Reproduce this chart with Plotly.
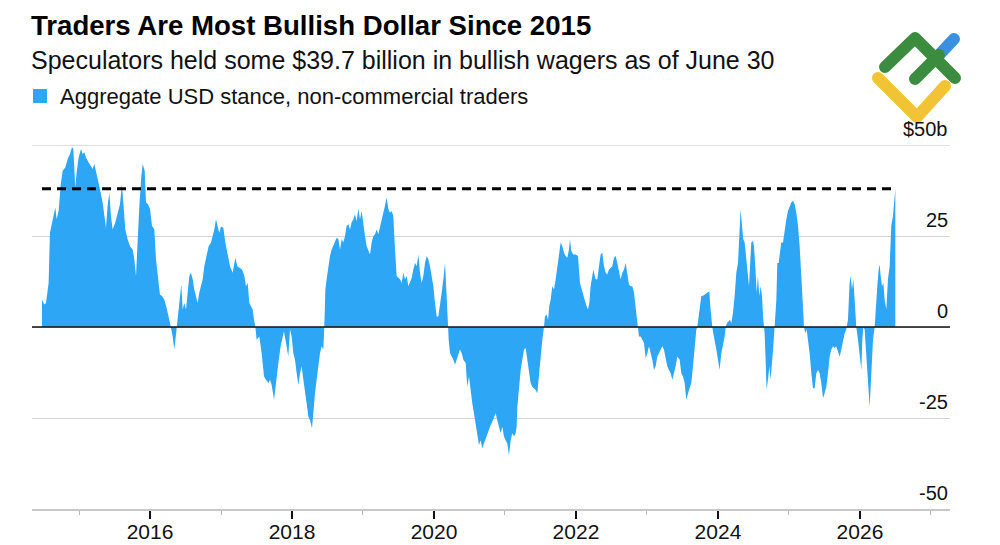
import base64
import plotly.graph_objects as go

# ---------------- data (decimal year, $bn) ----------------
seg_2014_2017 = [
    (2014.479, 7.5), (2014.511, 6.2), (2014.535, 6.6), (2014.572, 12.1), (2014.591, 25.9),
    (2014.629, 29.6), (2014.666, 32.8), (2014.685, 29.6), (2014.713, 31.9), (2014.746, 39.7),
    (2014.770, 42.9), (2014.807, 43.8), (2014.840, 46.1), (2014.873, 47.5), (2014.901, 49.4),
    (2014.920, 48.9), (2014.948, 38.3), (2014.967, 42.5), (2014.995, 46.6), (2015.028, 48.9),
    (2015.051, 47.5), (2015.075, 48.0), (2015.098, 46.6), (2015.136, 45.2), (2015.169, 44.3),
    (2015.192, 43.4), (2015.216, 44.8), (2015.239, 42.5), (2015.263, 40.6), (2015.295, 37.9),
    (2015.333, 34.2), (2015.356, 30.5), (2015.380, 27.3), (2015.403, 33.3), (2015.427, 36.9),
    (2015.450, 30.5), (2015.474, 26.8), (2015.511, 28.7), (2015.544, 31.4), (2015.577, 33.7),
    (2015.605, 39.2), (2015.624, 33.3), (2015.652, 26.8), (2015.685, 24.1), (2015.718, 22.2),
    (2015.756, 21.3), (2015.779, 18.6), (2015.803, 14.0), (2015.826, 25.9), (2015.850, 33.3),
    (2015.878, 41.5), (2015.897, 44.8), (2015.925, 42.9), (2015.944, 34.2), (2015.972, 33.7),
    (2016.000, 32.4), (2016.028, 27.8), (2016.061, 26.8), (2016.084, 18.6), (2016.112, 13.1),
    (2016.140, 8.9), (2016.169, 8.5), (2016.202, 7.5), (2016.234, 5.2), (2016.263, 2.9),
    (2016.291, 0.2), (2016.319, -2.6), (2016.342, -6.2), (2016.366, -2.1), (2016.389, 2.0),
    (2016.413, 5.2), (2016.441, 11.7), (2016.460, 4.8), (2016.483, 6.6), (2016.507, 4.8),
    (2016.530, 9.4), (2016.554, 14.0), (2016.577, 14.9), (2016.601, 13.1), (2016.624, 10.3),
    (2016.648, 8.5), (2016.671, 6.6), (2016.694, 9.4), (2016.718, 11.2), (2016.742, 13.1),
    (2016.765, 16.7), (2016.789, 18.6), (2016.826, 22.2), (2016.859, 23.2), (2016.882, 25.0),
    (2016.906, 26.8), (2016.929, 29.6), (2016.953, 27.8), (2016.976, 25.9), (2017.000, 27.6),
    (2017.033, 27.3), (2017.061, 23.2), (2017.094, 19.5), (2017.127, 16.7), (2017.164, 14.9),
    (2017.202, 19.0), (2017.230, 16.7), (2017.258, 16.3), (2017.296, 15.8), (2017.329, 14.0),
    (2017.352, 11.2), (2017.376, 12.1), (2017.399, 6.6), (2017.422, 5.7),
]

seg_2017_2020 = [
    (2017.446, 4.8), (2017.465, 2.0), (2017.484, 0.0), (2017.502, -3.5), (2017.540, -2.6),
    (2017.573, -7.2), (2017.606, -13.6), (2017.634, -14.5), (2017.667, -15.4), (2017.690, -14.5),
    (2017.714, -15.9), (2017.747, -20.0), (2017.775, -14.5), (2017.808, -9.9), (2017.840, -5.3),
    (2017.869, -2.6), (2017.887, -1.2), (2017.916, -4.4), (2017.948, -8.1), (2017.972, -0.7),
    (2017.995, -2.6), (2018.019, -7.2), (2018.042, -9.0), (2018.066, -12.7), (2018.089, -15.9),
    (2018.113, -12.7), (2018.136, -10.8), (2018.160, -14.5), (2018.183, -17.3), (2018.207, -21.0),
    (2018.230, -24.6), (2018.254, -25.6), (2018.282, -27.8), (2018.301, -22.8), (2018.324, -18.2),
    (2018.347, -14.5), (2018.371, -10.8), (2018.394, -7.2), (2018.418, -5.3), (2018.441, -6.2),
    (2018.455, 0.0), (2018.470, 10.3), (2018.488, 13.1), (2018.512, 16.7), (2018.535, 19.5),
    (2018.559, 21.3), (2018.582, 22.2), (2018.606, 23.2), (2018.629, 24.5), (2018.653, 24.1),
    (2018.676, 21.3), (2018.700, 24.1), (2018.723, 23.2), (2018.747, 25.0), (2018.770, 27.8),
    (2018.794, 28.2), (2018.817, 26.8), (2018.840, 28.7), (2018.864, 29.6), (2018.887, 31.0),
    (2018.911, 29.1), (2018.934, 32.4), (2018.958, 29.6), (2018.981, 31.9), (2019.005, 27.8),
    (2019.028, 25.0), (2019.052, 22.2), (2019.075, 20.9), (2019.099, 19.9), (2019.122, 23.2),
    (2019.146, 25.0), (2019.169, 25.5), (2019.193, 26.8), (2019.216, 25.5), (2019.240, 27.8),
    (2019.263, 29.6), (2019.286, 31.4), (2019.310, 33.3), (2019.333, 35.6), (2019.357, 32.4),
    (2019.380, 31.4), (2019.404, 31.9), (2019.427, 30.5), (2019.451, 21.3), (2019.474, 14.0),
    (2019.498, 13.5), (2019.521, 13.1), (2019.545, 12.1), (2019.568, 14.9), (2019.592, 13.1),
    (2019.615, 14.0), (2019.639, 11.2), (2019.662, 12.1), (2019.686, 13.5), (2019.709, 15.8),
    (2019.733, 17.6), (2019.756, 16.7), (2019.780, 19.9), (2019.803, 14.9), (2019.826, 12.1),
    (2019.850, 14.0), (2019.873, 17.6), (2019.897, 19.5), (2019.920, 18.6), (2019.944, 16.7),
    (2019.967, 14.0), (2019.991, 11.2), (2020.014, 6.6), (2020.038, 2.9), (2020.061, 2.9),
    (2020.085, 5.7), (2020.108, 9.4), (2020.132, 13.1), (2020.155, 17.6), (2020.178, 8.5),
    (2020.193, 0.0), (2020.207, -3.5), (2020.226, -7.2), (2020.249, -8.1), (2020.273, -9.0),
    (2020.296, -10.4), (2020.320, -9.0), (2020.343, -7.2), (2020.366, -6.2), (2020.390, -7.2),
    (2020.413, -9.0),
]

seg_2020_2023 = [
    (2020.446, -9.9), (2020.469, -16.4), (2020.493, -13.6), (2020.516, -18.2), (2020.540, -21.0),
    (2020.563, -23.7), (2020.587, -26.5), (2020.610, -30.1), (2020.634, -32.4), (2020.657, -31.1),
    (2020.681, -33.4), (2020.704, -32.0), (2020.728, -30.6), (2020.751, -29.2), (2020.775, -28.3),
    (2020.798, -26.9), (2020.822, -26.0), (2020.845, -24.6), (2020.868, -23.7), (2020.892, -25.6),
    (2020.915, -27.4), (2020.939, -29.2), (2020.962, -27.4), (2020.986, -30.1), (2021.009, -31.1),
    (2021.033, -32.0), (2021.056, -35.2), (2021.080, -31.1), (2021.103, -29.2), (2021.127, -30.1),
    (2021.150, -29.2), (2021.164, -27.4), (2021.174, -21.9), (2021.197, -16.4), (2021.221, -11.8),
    (2021.244, -9.0), (2021.268, -6.2), (2021.291, -5.8), (2021.315, -9.0), (2021.338, -12.7),
    (2021.361, -15.4), (2021.385, -16.4), (2021.408, -16.8), (2021.432, -17.3), (2021.455, -18.2),
    (2021.479, -12.7), (2021.502, -7.2), (2021.526, -3.5), (2021.549, 0.0), (2021.563, 2.9),
    (2021.587, 3.4), (2021.606, 2.0), (2021.624, 5.7), (2021.643, 7.5), (2021.667, 11.2),
    (2021.690, 10.3), (2021.714, 13.1), (2021.737, 16.7), (2021.761, 20.4), (2021.784, 23.2),
    (2021.808, 22.2), (2021.831, 20.4), (2021.854, 19.5), (2021.878, 19.0), (2021.901, 21.3),
    (2021.915, 24.1), (2021.934, 20.9), (2021.962, 19.9), (2021.995, 19.9), (2022.028, 19.5),
    (2022.056, 12.1), (2022.089, 9.4), (2022.122, 7.5), (2022.150, 5.7), (2022.169, 4.8),
    (2022.188, 6.6), (2022.206, 11.2), (2022.230, 14.0), (2022.244, 15.8), (2022.277, 13.1),
    (2022.300, 13.1), (2022.324, 16.7), (2022.347, 19.9), (2022.371, 20.4), (2022.394, 16.7),
    (2022.418, 14.9), (2022.441, 14.4), (2022.465, 15.8), (2022.488, 16.3), (2022.512, 16.7),
    (2022.535, 19.0), (2022.559, 19.5), (2022.582, 17.6), (2022.606, 14.9), (2022.629, 13.1),
    (2022.653, 14.9), (2022.676, 15.8), (2022.700, 17.6), (2022.723, 14.9), (2022.746, 11.7),
    (2022.770, 11.2), (2022.793, 11.2), (2022.817, 9.4), (2022.840, 4.8), (2022.864, 0.0),
    (2022.887, -2.6), (2022.911, -2.6), (2022.934, -3.5), (2022.958, -4.4), (2022.981, -8.5),
    (2023.005, -7.2), (2023.028, -5.3), (2023.052, -7.2), (2023.075, -9.0), (2023.099, -11.8),
    (2023.122, -10.8), (2023.146, -8.1), (2023.169, -7.2), (2023.192, -6.2), (2023.216, -5.3),
    (2023.239, -6.2), (2023.263, -9.0), (2023.286, -10.8), (2023.310, -11.8), (2023.333, -12.7),
    (2023.357, -14.5), (2023.380, -12.7), (2023.404, -10.8), (2023.427, -8.1),
]

seg_2023_2026 = [
    (2023.460, -9.0), (2023.484, -12.7), (2023.507, -13.6), (2023.531, -15.4), (2023.554, -20.0),
    (2023.578, -18.2), (2023.601, -16.4), (2023.624, -15.4), (2023.648, -10.8), (2023.671, -5.3),
    (2023.695, -0.7), (2023.709, 0.0), (2023.728, 2.9), (2023.746, 4.8), (2023.765, 8.5),
    (2023.789, 8.6), (2023.812, 8.9), (2023.836, 9.2), (2023.859, 9.6), (2023.878, 9.8),
    (2023.892, 5.7), (2023.906, 2.0), (2023.920, 0.0), (2023.934, -1.7), (2023.953, -3.5),
    (2023.977, -6.2), (2024.000, -9.0), (2024.023, -11.8), (2024.047, -7.2), (2024.070, -5.3),
    (2024.094, -2.6), (2024.108, 0.0), (2024.127, 1.1), (2024.150, 1.6), (2024.169, 2.0),
    (2024.188, 1.1), (2024.211, 3.9), (2024.235, 8.5), (2024.258, 14.9), (2024.282, 17.6),
    (2024.305, 26.8), (2024.319, 32.4), (2024.338, 27.8), (2024.357, 24.1), (2024.376, 23.2),
    (2024.399, 18.6), (2024.423, 13.1), (2024.437, 11.2), (2024.451, 16.7), (2024.469, 23.2),
    (2024.493, 23.6), (2024.507, 22.2), (2024.526, 16.7), (2024.545, 9.4), (2024.563, 14.0),
    (2024.582, 8.5), (2024.601, 11.2), (2024.620, 8.5), (2024.638, 2.0), (2024.657, -1.7),
    (2024.671, -9.0), (2024.685, -17.3), (2024.704, -14.5), (2024.723, -10.8), (2024.742, -14.5),
    (2024.761, -10.8), (2024.779, -5.3), (2024.798, 0.0), (2024.822, 7.5), (2024.836, 17.6),
    (2024.854, 17.6), (2024.873, 20.4), (2024.892, 23.2), (2024.916, 23.2), (2024.939, 26.8),
    (2024.963, 29.6), (2024.986, 31.9), (2025.010, 33.3), (2025.033, 34.2), (2025.056, 34.7),
    (2025.080, 33.7), (2025.103, 31.4), (2025.127, 27.8), (2025.150, 22.2), (2025.174, 14.9),
    (2025.197, 5.7), (2025.211, 0.0), (2025.230, -1.7), (2025.249, -0.7), (2025.268, -3.5),
    (2025.291, -7.2), (2025.315, -12.7), (2025.338, -16.8), (2025.362, -16.8), (2025.385, -12.7),
    (2025.409, -11.8), (2025.432, -12.7), (2025.455, -15.4), (2025.479, -19.6), (2025.502, -18.2),
    (2025.526, -16.4), (2025.549, -12.7), (2025.573, -8.1), (2025.596, -6.2), (2025.620, -5.3),
    (2025.643, -5.8), (2025.667, -5.3), (2025.690, -6.7), (2025.714, -8.1), (2025.737, -6.2),
    (2025.761, -3.5), (2025.784, -1.7), (2025.807, -0.7), (2025.831, 2.0), (2025.854, 12.1),
    (2025.869, 14.0), (2025.887, 10.3), (2025.906, 13.1), (2025.925, 7.5), (2025.948, 0.0),
    (2025.972, -3.5), (2025.995, -8.1), (2026.019, -11.8), (2026.033, -3.5), (2026.047, 0.0),
    (2026.066, -0.7), (2026.089, -7.2), (2026.113, -14.5), (2026.136, -21.9), (2026.160, -12.7),
    (2026.183, -3.5), (2026.207, 0.0), (2026.225, 6.6), (2026.244, 11.2), (2026.263, 15.8),
    (2026.277, 17.2), (2026.291, 14.0), (2026.310, 11.2), (2026.329, 12.1), (2026.348, 7.5),
    (2026.371, 4.8), (2026.394, 13.1), (2026.418, 16.7), (2026.441, 27.8), (2026.465, 30.5),
    (2026.488, 37.4), (2026.498, 38.0),
]

x_tick_vals = [2016, 2018, 2020, 2022, 2024, 2026]
x_tick_text = ["2016", "2018", "2020", "2022", "2024", "2026"]
x_minor_vals = [2015, 2017, 2019, 2021, 2023, 2025, 2027]
y_tick_vals = [50, 25, 0, -25, -50]
y_tick_text = ["$50b", "25", "0", "-25", "-50"]

title = "Traders Are Most Bullish Dollar Since 2015"
subtitle = "Speculators held some $39.7 billion in bullish wagers as of June 30"
series_name = "Aggregate USD stance, non-commercial traders"

# ---------------- build ----------------
points = seg_2014_2017 + seg_2017_2020 + seg_2020_2023 + seg_2023_2026
dates = [p[0] for p in points]
values = [p[1] for p in points]

BLUE = "#2ca6f5"
GRID = "#d4d4d4"
FONT = "Liberation Sans, Arial, Helvetica, sans-serif"

W, H = 1000, 545
ML, MR, MT, MB = 32, 50, 145, 36
PW, PH = W - ML - MR, H - MT - MB


def px(x):
    return (x - ML) / PW


def py(y):
    return (H - MB - y) / PH


fig = go.Figure()
fig.add_trace(go.Scatter(
    x=dates, y=values, mode="lines", fill="tozeroy",
    fillcolor=BLUE, line=dict(color=BLUE, width=0),
    name=series_name, hoverinfo="x+y",
))
fig.add_trace(go.Scatter(
    x=[dates[0], dates[-1]], y=[values[-1], values[-1]], mode="lines",
    line=dict(color="#000000", width=3, dash="9px,6px"), hoverinfo="skip",
))

fig.update_layout(
    width=W, height=H, autosize=False,
    margin=dict(l=ML, r=MR, t=MT, b=MB, pad=0),
    paper_bgcolor="white", plot_bgcolor="white",
    showlegend=False,
    font=dict(family=FONT, color="#111111"),
    xaxis=dict(
        range=[2014.338, 2027.268], automargin=False,
        tickvals=x_tick_vals, ticktext=x_tick_text,
        ticks="outside", ticklen=8, tickwidth=2, tickcolor="#111111",
        tickfont=dict(size=21, color="#111111"),
        ticklabelstandoff=-5,
        showgrid=False, zeroline=False,
        showline=True, linecolor="#c8c8c8", linewidth=1.5,
        minor=dict(tickvals=x_minor_vals, ticks="outside", ticklen=4,
                   tickwidth=1, tickcolor="#bbbbbb", showgrid=False),
        fixedrange=True,
    ),
    yaxis=dict(
        range=[-50, 50], tickvals=y_tick_vals, showticklabels=False,
        automargin=False,
        showgrid=True, gridcolor=GRID, gridwidth=1,
        zeroline=False, showline=False, ticks="", fixedrange=True,
    ),
)

# top gridline (edge of the plot area)
fig.add_shape(type="line", xref="paper", x0=0, x1=1, yref="y",
              y0=y_tick_vals[0], y1=y_tick_vals[0],
              line=dict(color=GRID, width=1.5), layer="below")

# zero line above the area
fig.add_shape(type="line", xref="paper", x0=0, x1=1, yref="y", y0=0, y1=0,
              line=dict(color="#111111", width=1.5), layer="above")

# y tick labels (right, above gridlines)
for v, t in zip(y_tick_vals, y_tick_text):
    fig.add_annotation(x=1, xref="paper", xanchor="right", y=v, yref="y",
                       yanchor="bottom", yshift=3, text=t, showarrow=False,
                       font=dict(size=20, color="#111111"))

# title block
fig.add_annotation(x=0, xref="paper", xanchor="left", xshift=-3, y=py(25), yref="paper",
                   yanchor="middle", text="<b>" + title + "</b>", showarrow=False,
                   font=dict(size=27.6, color="#000000"))
fig.add_annotation(x=0, xref="paper", xanchor="left", xshift=-3, y=py(60), yref="paper",
                   yanchor="middle", text=subtitle, showarrow=False,
                   font=dict(size=25, color="#111111"))
fig.add_annotation(x=px(60), xref="paper", xanchor="left", xshift=-2, y=py(96), yref="paper",
                   yanchor="middle", text=series_name, showarrow=False,
                   font=dict(size=22, color="#111111"))
fig.add_shape(type="rect", xref="paper", yref="paper",
              x0=px(33), x1=px(47), y0=py(103), y1=py(89),
              fillcolor=BLUE, line=dict(width=0))

# logo
svg = (
    '<svg xmlns="http://www.w3.org/2000/svg" width="95" height="95" viewBox="870 30 95 95">'
    '<g fill="none" stroke-linecap="round" stroke-linejoin="round" stroke-width="12">'
    '<polyline points="878,78 917,117 945,86" stroke="#f2c335"/>'
    '<line x1="938" y1="56" x2="954" y2="39" stroke="#3a8fde"/>'
    '<polyline points="885,67 915,38 955,78" stroke="#3b8c3f"/>'
    '<line x1="915" y1="79" x2="939" y2="55" stroke="#3b8c3f"/>'
    '</g></svg>'
)
src = "data:image/svg+xml;base64," + base64.b64encode(svg.encode()).decode()
fig.add_layout_image(dict(source=src, xref="paper", yref="paper",
                          x=px(870), y=py(30), sizex=95 / PW, sizey=95 / PH,
                          xanchor="left", yanchor="top", sizing="stretch",
                          layer="above"))

fig.write_html("out.html")
